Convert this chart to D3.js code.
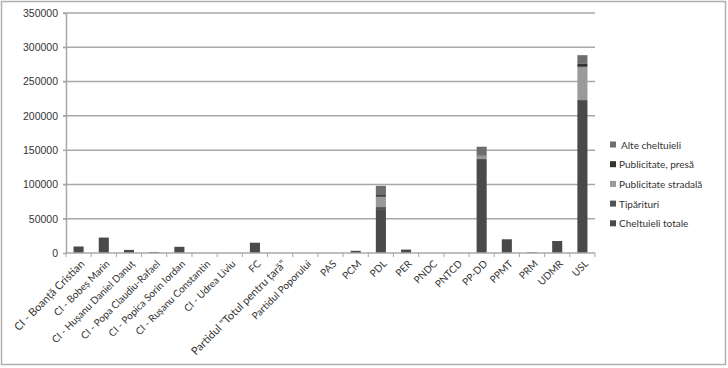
<!DOCTYPE html>
<html>
<head>
<meta charset="utf-8">
<script src="https://d3js.org/d3.v7.min.js"></script>
<style>
  body { margin: 0; background: #fff; }
  svg { font-family: Lato, "Open Sans", sans-serif; }
</style>
</head>
<body>
<svg id="chart"></svg>
<script>
const categories = ["CI - Boanță Cristian", "CI - Bobeș Marin", "CI - Hușanu Daniel Danuț",
  "CI - Popa Claudiu-Rafael", "CI - Popica Sorin Iordan", "CI - Rușanu Constantin",
  "CI - Udrea Liviu", "FC", "Partidul \"Totul pentru țară\"", "Partidul Poporului",
  "PAS", "PCM", "PDL", "PER", "PNDC", "PNTCD", "PP-DD", "PPMT", "PRM", "UDMR", "USL"];

// stacked from the bottom up
const cheltuieliTotale    = [9500, 22500, 4500, 1500, 9000, 0, 0, 15000, 0, 0, 0, 3200, 64000, 5000, 0, 0, 137000, 20000, 1000, 17500, 223000];
const tiparituri          = [0, 0, 0, 0, 0, 0, 0, 0, 0, 0, 0, 0, 3000, 0, 0, 0, 0, 0, 0, 0, 0];
const publicitateStradala = [0, 0, 0, 0, 0, 0, 0, 0, 0, 0, 0, 0, 15000, 0, 0, 0, 4000, 0, 0, 0, 48500];
const publicitatePresa    = [0, 0, 0, 0, 0, 0, 0, 0, 0, 0, 0, 0, 2500, 0, 0, 0, 1000, 0, 0, 0, 5000];
const alteCheltuieli      = [0, 0, 0, 0, 0, 0, 0, 0, 0, 0, 0, 0, 13500, 0, 0, 0, 13000, 0, 0, 0, 12000];

const yTicks = [0, 50000, 100000, 150000, 200000, 250000, 300000, 350000];

const seriesKeys = ["Cheltuieli totale", "Tipărituri", "Publicitate stradală", "Publicitate, presă", "Alte cheltuieli"];
const seriesValues = [cheltuieliTotale, tiparituri, publicitateStradala, publicitatePresa, alteCheltuieli];
const colors = ["#4a4a4a", "#525252", "#9a9a9a", "#333333", "#6e6e6e"];

const width = 728, height = 368;
const margin = { top: 13, right: 133, bottom: 115, left: 66 };

const svg = d3.select("#chart").attr("width", width).attr("height", height);

// outer frame
svg.append("rect")
  .attr("x", 1.5).attr("y", 1.5)
  .attr("width", 724).attr("height", 363)
  .attr("fill", "none").attr("stroke", "#b0b0b0").attr("stroke-width", 1.5);

const rows = categories.map((c, i) => {
  const r = { name: c };
  seriesKeys.forEach((k, j) => r[k] = seriesValues[j][i]);
  return r;
});
const stacked = d3.stack().keys(seriesKeys)(rows);

const x = d3.scaleBand()
  .domain(categories)
  .range([margin.left, width - margin.right])
  .paddingInner(0.6).paddingOuter(0.3);

const y = d3.scaleLinear()
  .domain([0, 350000])
  .range([height - margin.bottom, margin.top]);

// gridlines
svg.append("g")
  .selectAll("line")
  .data(yTicks.slice(1))
  .join("line")
  .attr("x1", margin.left - 3).attr("x2", width - margin.right)
  .attr("y1", d => y(d)).attr("y2", d => y(d))
  .attr("stroke", "#a8a8a8").attr("stroke-width", 1.5);

// y axis
const yAxis = svg.append("g")
  .attr("transform", `translate(${margin.left},0)`)
  .call(d3.axisLeft(y).tickValues(yTicks).tickSize(3).tickFormat(d3.format("d")));
yAxis.select(".domain").attr("stroke", "#a8a8a8").attr("stroke-width", 1.5);
yAxis.selectAll(".tick line").attr("stroke", "#a8a8a8");
yAxis.selectAll("text").attr("font-size", 10.5).attr("fill", "#333").attr("x", -8);

// bars
svg.append("g")
  .selectAll("g")
  .data(stacked)
  .join("g")
  .attr("fill", (d, i) => colors[i])
  .selectAll("rect")
  .data(d => d)
  .join("rect")
  .attr("x", d => x(d.data.name))
  .attr("width", x.bandwidth())
  .attr("y", d => y(d[1]))
  .attr("height", d => y(d[0]) - y(d[1]));

// x axis
const step = x.step();
const xAxisG = svg.append("g").attr("transform", `translate(0,${y(0)})`);
xAxisG.append("line")
  .attr("x1", margin.left).attr("x2", width - margin.right)
  .attr("stroke", "#a8a8a8").attr("stroke-width", 1.5);
xAxisG.selectAll(".sep")
  .data(d3.range(categories.length + 1))
  .join("line")
  .attr("class", "sep")
  .attr("x1", i => margin.left + (width - margin.left - margin.right) * i / categories.length)
  .attr("x2", i => margin.left + (width - margin.left - margin.right) * i / categories.length)
  .attr("y1", 0).attr("y2", 4)
  .attr("stroke", "#a8a8a8");
xAxisG.selectAll(".lbl")
  .data(categories)
  .join("text")
  .attr("class", "lbl")
  .attr("transform", d => `translate(${x(d) + x.bandwidth() / 2 + 4},9) rotate(-45)`)
  .attr("text-anchor", "end")
  .attr("dy", "0.35em")
  .attr("font-size", (d, i) => (i === 0 || i === 8) ? 11 : 10)
  .attr("fill", "#333")
  .text(d => d);

// legend (top series first)
const legend = svg.append("g").attr("transform", "translate(610,145)");
const legendOrder = d3.range(seriesKeys.length).reverse();
legend.selectAll("g")
  .data(legendOrder)
  .join("g")
  .attr("transform", (d, i) => `translate(0,${i * 19.7})`)
  .call(g => g.append("rect")
    .attr("x", 0).attr("y", -3.5).attr("width", 6).attr("height", 6)
    .attr("fill", d => colors[d]))
  .call(g => g.append("text")
    .attr("x", d => d === 4 ? 11 : 9).attr("dy", "0.35em")
    .attr("font-size", 10).attr("fill", "#333")
    .text(d => seriesKeys[d]));
</script>
</body>
</html>
